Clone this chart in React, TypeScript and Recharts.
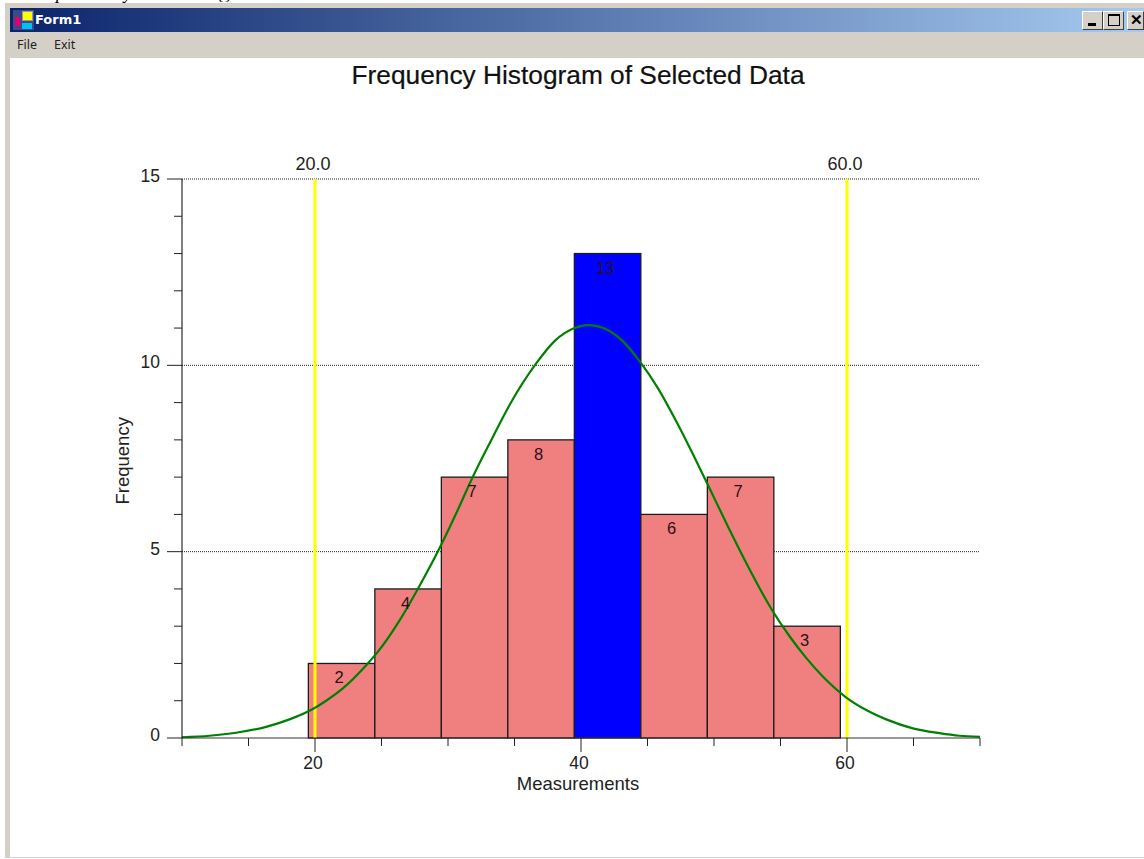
import React from "react";
import { ComposedChart, Bar, Line, XAxis, YAxis, LabelList, ReferenceLine, CartesianGrid, Label } from "recharts";

const binCenters = [22, 27, 32, 37, 42, 47, 52, 57];
const binCounts = [2, 4, 7, 8, 13, 6, 7, 3];
const highlightedBin = 42;
const curveX = [10, 12.07, 14.07, 16.33, 18.08, 19.94, 20.84, 22.09, 23.97, 24.72, 26.35, 27.73, 29.36, 30.62, 31.87, 33.25, 34.62, 36.63, 38.01, 39.51, 40.51, 41.89, 43.14, 44.39, 45.78, 47.16, 48.41, 49.53, 50.92, 52.42, 54.42, 55.68, 56.93, 58.18, 59.9, 61.45, 62.95, 64.95, 66.95, 68.46, 70];
const curveY = [0.02, 0.06, 0.14, 0.3, 0.5, 0.8, 1.0, 1.33, 2.0, 2.31, 3.15, 4.0, 5.09, 6.03, 7.01, 7.99, 8.93, 10.05, 10.65, 11.0, 11.08, 10.97, 10.65, 10.12, 9.39, 8.5, 7.62, 6.8, 5.77, 4.7, 3.4, 2.73, 2.15, 1.65, 1.1, 0.75, 0.5, 0.26, 0.13, 0.06, 0.03];
const xTicks = [10, 15, 20, 25, 30, 35, 40, 45, 50, 55, 60, 65, 70];
const xLabelled = [20, 40, 60];
const yTicks = [0, 1, 2, 3, 4, 5, 6, 7, 8, 9, 10, 11, 12, 13, 14, 15];
const yLabelled = [0, 5, 10, 15];
const limits = [20, 60];

const bins = binCenters.map((x, i) => ({ x, count: binCounts[i] }));
const curve = curveX.map((x, i) => ({ x, fit: curveY[i] }));

const FONT = "'Liberation Sans', Arial, sans-serif";
const UI = "'Noto Sans', Tahoma, sans-serif";
const TEXT = "#222";
const BIN_PX = 66.5;

const XTick = (p: any) => {
  const major = xLabelled.includes(p.payload.value);
  const y0 = p.y - 8;
  return (
    <g>
      <line x1={p.x} x2={p.x} y1={y0} y2={y0 + (major ? 14 : 8)} stroke="#222" />
      {major && (
        <text x={p.x - 2} y={y0 + 31} textAnchor="middle" fontSize={17.5} fontFamily={FONT} fill={TEXT}>{p.payload.value}</text>
      )}
    </g>
  );
};

const YTick = (p: any) => {
  const major = yLabelled.includes(p.payload.value);
  const x0 = p.x + 8;
  return (
    <g>
      <line x1={x0} x2={x0 - (major ? 15 : 8)} y1={p.y} y2={p.y} stroke="#222" />
      {major && (
        <text x={x0 - 22} y={p.y + 3} textAnchor="end" fontSize={17.5} fontFamily={FONT} fill={TEXT}>{p.payload.value}</text>
      )}
    </g>
  );
};

const BinShape = (p: any) => {
  const cx = p.x + (p.width || 0) / 2;
  const blue = p.payload.x === highlightedBin;
  return <rect x={cx - BIN_PX / 2} y={p.y} width={BIN_PX} height={p.height} fill={blue ? "#0000ff" : "#f08080"} stroke="#1c1c1c" strokeWidth={1.3} />;
};

const BinLabel = (p: any) => (
  <text x={p.x + (p.width || 0) / 2 - 2.5} y={p.y + 20} textAnchor="middle" fontSize={16.5} fontFamily={FONT} fill="#2a1015">{p.value}</text>
);

const Frag = ({ x, children }: any) => (
  <div style={{ position: "absolute", left: x, top: -16, fontFamily: "'Liberation Serif', serif", fontStyle: "italic", fontSize: 18, lineHeight: "18px", color: "#000" }}>{children}</div>
);

const Btn = ({ x, w, children }: any) => (
  <div style={{ position: "absolute", left: x, top: 11, width: w, height: 19, boxSizing: "border-box", background: "#d4d0c8", borderTop: "1px solid #fff", borderLeft: "1px solid #fff", borderRight: "1px solid #404040", borderBottom: "1px solid #404040", overflow: "hidden" }}>{children}</div>
);

export default function App() {
  return (
    <div style={{ position: "absolute", left: 0, top: 0, width: 1144, height: 859, overflow: "hidden", background: "#fff" }}>
      <Frag x={56}>p</Frag>
      <Frag x={124}>y</Frag>
      <Frag x={218}>{"{}"}</Frag>
      {/* window frame */}
      <div style={{ position: "absolute", left: 5, top: 3, width: 1139, height: 855, background: "#d4d0c8" }} />
      <div style={{ position: "absolute", left: 10, top: 8, width: 1134, height: 24, background: "linear-gradient(to right, #0a246a, #a6caf0)" }} />
      <div style={{ position: "absolute", left: 10, top: 58, width: 1134, height: 799, background: "#fff" }} />
      {/* icon */}
      <div style={{ position: "absolute", left: 13, top: 10, width: 21, height: 20, background: "#3a4a8a" }}>
        <div style={{ position: "absolute", left: 2, top: 7, width: 5, height: 9, background: "#e0006a" }} />
        <div style={{ position: "absolute", left: 9, top: 1, width: 11, height: 10, background: "#ffff00", border: "1px solid #999", boxSizing: "border-box" }} />
        <div style={{ position: "absolute", left: 9, top: 13, width: 10, height: 6, background: "#00c0f0" }} />
      </div>
      <div style={{ position: "absolute", left: 35, top: 11, fontFamily: "'DejaVu Sans', sans-serif", fontWeight: 700, fontSize: 13, lineHeight: "18px", color: "#fff" }}>Form1</div>
      <div style={{ position: "absolute", left: 17, top: 37, fontFamily: UI, fontSize: 12.5, lineHeight: "16px", color: "#222" }}>File</div>
      <div style={{ position: "absolute", left: 54, top: 37, fontFamily: UI, fontSize: 12.5, lineHeight: "16px", color: "#222" }}>Exit</div>
      <Btn x={1082} w={21}><div style={{ position: "absolute", left: 5, top: 11, width: 8, height: 3, background: "#000" }} /></Btn>
      <Btn x={1103} w={21}><div style={{ position: "absolute", left: 4, top: 2, width: 12, height: 12, border: "1px solid #000", borderTop: "2px solid #000", boxSizing: "border-box" }} /></Btn>
      <Btn x={1127} w={17}><div style={{ position: "absolute", left: 2, top: 0, fontFamily: FONT, fontWeight: 700, fontSize: 15, lineHeight: "16px", color: "#000" }}>✕</div></Btn>

      <div style={{ position: "absolute", left: 0, top: 61, width: 1156, textAlign: "center", fontFamily: FONT, fontSize: 26.3, lineHeight: "28px", color: "#111", WebkitTextStroke: "0.2px #111" }}>
        Frequency Histogram of Selected Data
      </div>

      <div style={{ position: "absolute", left: 0, top: 0 }}>
        <ComposedChart width={1144} height={859} data={bins} margin={{ top: 179, right: 164, bottom: 61, left: 122 }} barCategoryGap={0}>
          <CartesianGrid vertical={false} horizontalValues={[5, 10, 15]} stroke="#222" strokeDasharray="1 1" />
          <XAxis dataKey="x" type="number" domain={[10, 70]} ticks={xTicks} interval={0} height={60} tick={XTick} tickLine={false} axisLine={{ stroke: "#333" }}>
            <Label position="insideBottom" offset={8} value="Measurements" fontSize={18.5} fontFamily={FONT} fill={TEXT} dx={-3} />
          </XAxis>
          <YAxis type="number" domain={[0, 15]} ticks={yTicks} interval={0} width={60} tick={YTick} tickLine={false} axisLine={{ stroke: "#000" }}>
            <Label angle={-90} position="insideLeft" offset={0} value="Frequency" fontSize={18.5} fontFamily={FONT} fill={TEXT} dy={46} />
          </YAxis>
          <Bar dataKey="count" stroke="#222" isAnimationActive={false} shape={BinShape}>
            <LabelList dataKey="count" content={BinLabel} />
          </Bar>
          {limits.map((v) => (
            <ReferenceLine key={v} x={v} stroke="#ffff00" strokeWidth={3}>
              <Label position="top" offset={9} value={v.toFixed(1)} fontSize={18} fontFamily={FONT} fill={TEXT} dx={-2} />
            </ReferenceLine>
          ))}
          <Line data={curve} dataKey="fit" type="monotone" stroke="#008000" strokeWidth={2.2} dot={false} activeDot={false} isAnimationActive={false} />
        </ComposedChart>
      </div>
    </div>
  );
}
